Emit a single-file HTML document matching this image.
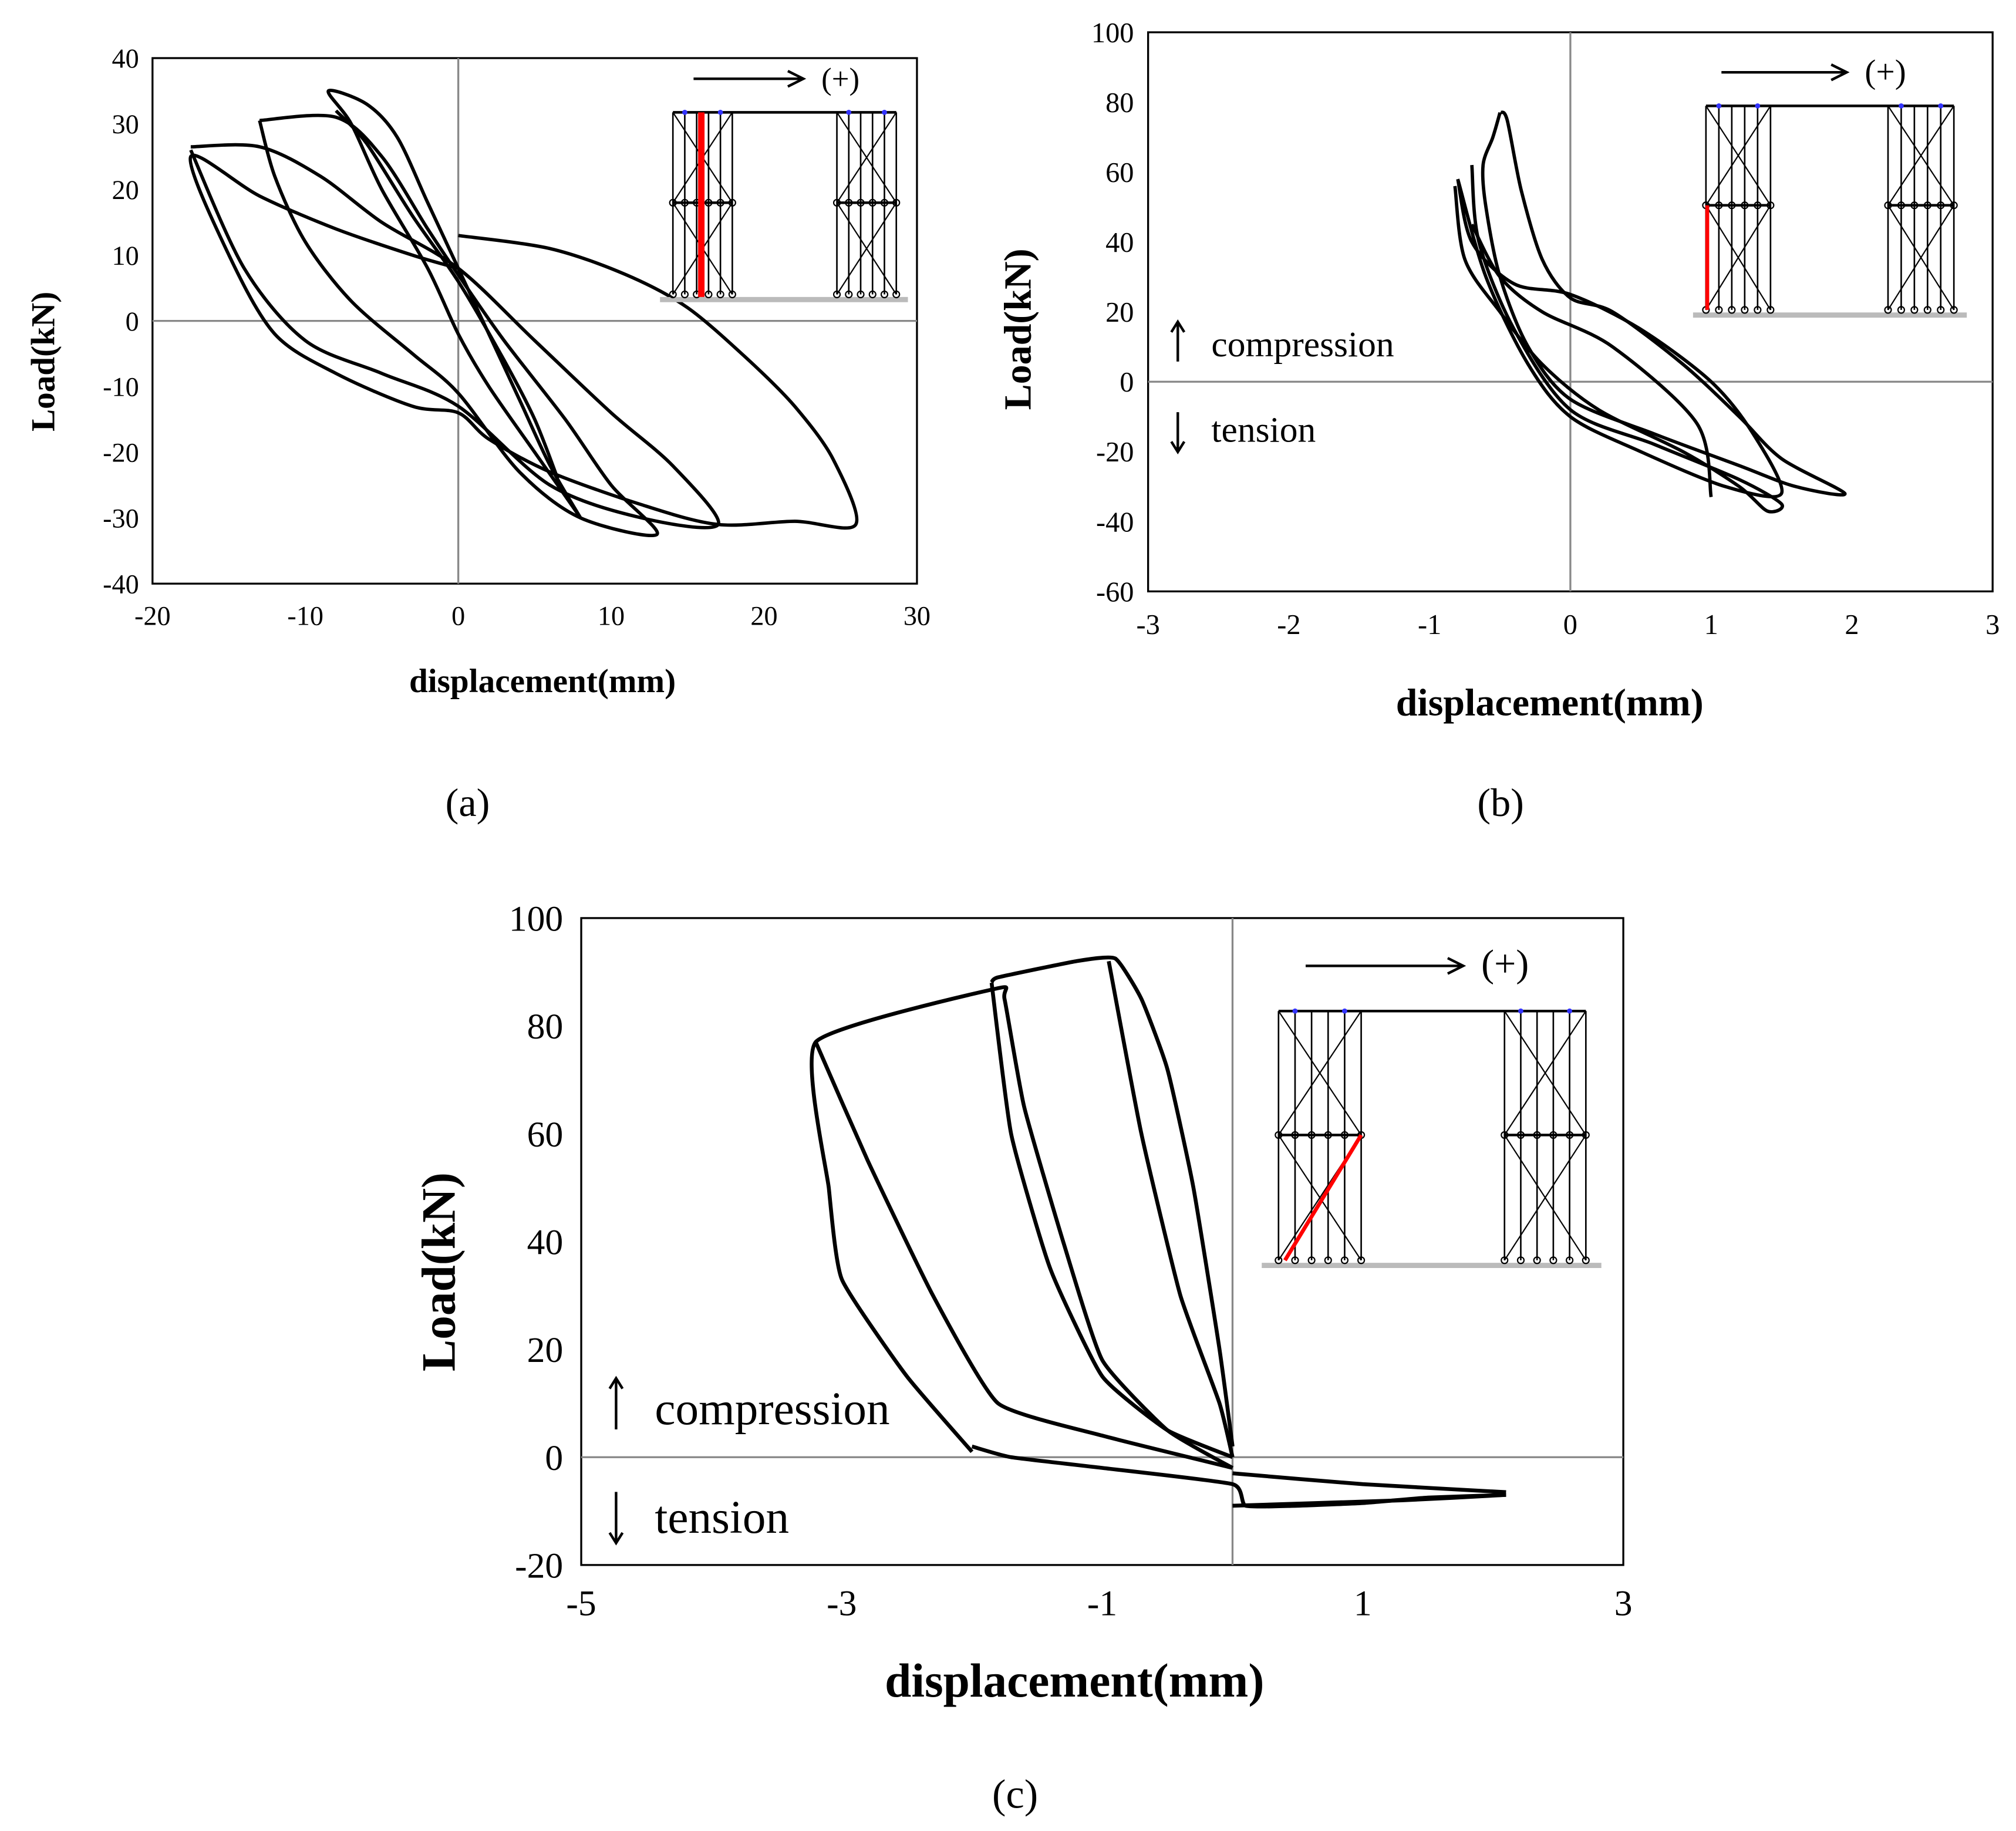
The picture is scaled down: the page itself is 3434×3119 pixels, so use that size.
<!DOCTYPE html>
<html><head><meta charset="utf-8"><style>
html,body{margin:0;padding:0;background:#fff}
svg{display:block}
text{font-family:"Liberation Serif",serif}
</style></head>
<body>
<svg id="root" width="3434" height="3119" viewBox="0 0 1561 1418" xmlns="http://www.w3.org/2000/svg">
<rect width="1561" height="1418" fill="#fff"/>
</svg>
<script>
// ---- Data ----
const aXTicks = [-20,-10,0,10,20,30];
const aYTicks = [-40,-30,-20,-10,0,10,20,30,40];
const aLoops = [
 [[8,-30],[5,-20],[2,-10],[0,-2],[-2,8],[-5,20],[-7,30],[-8.5,35],[-6,33],[-4,28],[-2,18],[0,8],[2,-2],[4,-12],[6,-22],[8,-30]],
 [[-8,32],[-6,27],[-3,16],[0,6],[3,-6],[5,-15],[6.5,-24]],
 [[-13,30.5],[-8,31],[-5,25],[-2,14],[0,7],[3,-3],[7,-15],[10,-25],[13,-32.5],[8,-30],[4,-23],[0,-11],[-3,-5],[-7,3],[-10,12],[-12,22],[-13,30.5]],
 [[-17.5,26.5],[-13,26.5],[-9,22],[-5,15],[0,8],[5,-3],[10,-14],[14,-22],[17,-31],[12,-30],[6,-25],[0,-13],[-5,-8],[-10,-3],[-14,8],[-17.5,26]],
 [[0,13],[6,11],[11,7],[15,2],[19,-6],[22,-13],[24.5,-21],[26,-31],[22,-30.5],[17,-31],[12,-28],[6,-23],[2,-18],[0,-14],[-3,-13],[-8,-8],[-12,-2],[-15,10],[-17.5,25],[-13,19],[-8,14],[-3,10],[0,8]]
];
const bXTicks = [-3,-2,-1,0,1,2,3];
const bYTicks = [-60,-40,-20,0,20,40,60,80,100];
const bLoops = [
 [[-0.5,77],[-0.45,75],[-0.35,55],[-0.2,35],[0,24],[0.3,20],[0.8,5],[1.2,-10],[1.5,-22],[1.95,-32],[1.6,-30],[1.2,-24],[0.6,-15],[0,-5],[-0.3,10],[-0.5,30],[-0.6,50],[-0.62,62],[-0.55,70],[-0.5,77]],
 [[-0.8,58],[-0.7,40],[-0.4,28],[0,25],[0.5,15],[1,0],[1.3,-15],[1.5,-32],[1.1,-30],[0.5,-20],[0,-10],[-0.3,5],[-0.6,30],[-0.8,58]],
 [[-0.82,56],[-0.75,35],[-0.5,20],[-0.2,5],[0.2,-8],[0.8,-20],[1.2,-30],[1.4,-37],[1.5,-35],[1.2,-28],[0.6,-18],[0,-8],[-0.4,15],[-0.65,40],[-0.7,62]],
 [[-0.7,45],[-0.5,30],[-0.2,20],[0.3,10],[0.9,-12],[1,-33]]
];
const cXTicks = [-5,-3,-1,1,3];
const cYTicks = [-20,0,20,40,60,80,100];
const cLoops = [
 [[-2,1],[-2.5,15],[-3,33],[-3.1,50],[-3.2,77],[-1.8,87],[-1.75,85],[-1.6,65],[-1.3,40],[-1,18],[-0.5,5],[0,-2]],
 [[-3.2,77],[-2.8,55],[-2.3,30],[-1.8,10],[-1,4],[0,-2]],
 [[-1.85,88],[-1.7,60],[-1.4,35],[-1,15],[-0.5,5],[0,0]],
 [[-1.85,88],[-1.8,89],[-1.2,92],[-0.9,92.5],[-0.7,85],[-0.5,72],[-0.3,50],[-0.1,20],[0,2]],
 [[-0.95,92],[-0.7,60],[-0.4,30],[-0.1,10],[0,0]],
 [[-2,2],[-1.7,0],[-1,-2],[0,-5],[0.1,-9],[0.5,-9],[1,-8.5],[1.5,-7.5],[2.1,-7]],
 [[0,-3],[1,-5],[2.1,-6.5]],
 [[0,-9],[1.3,-8],[2.1,-7]]
];

const NS="http://www.w3.org/2000/svg";
const root=document.getElementById('root');
function mk(tag,attrs,parent){const e=document.createElementNS(NS,tag);for(const k in attrs)e.setAttribute(k,attrs[k]);(parent||root).appendChild(e);return e;}
function txt(s,x,y,size,opts,parent){const t=mk('text',Object.assign({x:x,y:y,'font-size':size,fill:'#000'},opts||{}),parent);t.textContent=s;return t;}
function smooth(p,t){
 let d='M'+p[0][0].toFixed(1)+','+p[0][1].toFixed(1);
 for(let i=0;i<p.length-1;i++){
  const p0=p[Math.max(0,i-1)],p1=p[i],p2=p[i+1],p3=p[Math.min(p.length-1,i+2)];
  const c1=[p1[0]+(p2[0]-p0[0])*t,p1[1]+(p2[1]-p0[1])*t];
  const c2=[p2[0]-(p3[0]-p1[0])*t,p2[1]-(p3[1]-p1[1])*t];
  d+=' C'+c1[0].toFixed(1)+','+c1[1].toFixed(1)+' '+c2[0].toFixed(1)+','+c2[1].toFixed(1)+' '+p2[0].toFixed(1)+','+p2[1].toFixed(1);
 }
 return d;
}

function chart(cfg){
 const g=mk('g',{});
 
 
 const sx=v=>cfg.x0+(v-cfg.xmin)/(cfg.xmax-cfg.xmin)*(cfg.x1-cfg.x0);
 const sy=v=>cfg.y1-(v-cfg.ymin)/(cfg.ymax-cfg.ymin)*(cfg.y1-cfg.y0);
 const frame=mk('rect',{x:cfg.x0,y:cfg.y0,width:cfg.x1-cfg.x0,height:cfg.y1-cfg.y0,fill:'none',stroke:'#000','stroke-width':1.5},g);
 
 
 const zx=mk('line',{x1:sx(0),x2:sx(0),y1:cfg.y0,y2:cfg.y1,stroke:'#888','stroke-width':1.5},g);
 
 
 const zy=mk('line',{x1:cfg.x0,x2:cfg.x1,y1:sy(0),y2:sy(0),stroke:'#888','stroke-width':1.5},g);
 
 
 cfg.xt.forEach(v=>{const t=txt(String(v),sx(v),cfg.y1+cfg.fs+11,cfg.fs,{'text-anchor':'middle'},g);
  
  });
 cfg.yt.forEach(v=>{const t=txt(String(v),cfg.x0-cfg.fs*0.5,sy(v)+cfg.fs*0.35,cfg.fs,{'text-anchor':'end'},g);
  
  });
 cfg.loops.forEach(l=>{const p=mk('path',{d:smooth(l.map(d=>[sx(d[0]),sy(d[1])]),cfg.sm),fill:'none',stroke:'#000','stroke-width':cfg.lw,'stroke-linejoin':'round'},g);
  
  });
 const xt=txt('displacement(mm)',cfg.xtx,cfg.xty,cfg.tfs,{'text-anchor':'middle','font-weight':'bold'},g);
 
 
 const yt=txt('Load(kN)',0,0,cfg.tfs,{'text-anchor':'middle','font-weight':'bold',transform:'translate('+cfg.ytx+','+cfg.yty+') rotate(-90)'},g);
 
 
 const lb=txt(cfg.label,cfg.lx,cfg.ly,cfg.lfs,{'text-anchor':'middle'},g);
 
 
 return g;
}

function tower(g,xl,xr,top,mid,base){
 const n=6;
 for(let i=0;i<n;i++){const x=xl+(xr-xl)*i/(n-1);mk('line',{x1:x,x2:x,y1:top,y2:base,stroke:'#000','stroke-width':1.2},g);
  mk('circle',{cx:x,cy:mid,r:2.5,fill:'none',stroke:'#000','stroke-width':1},g);
  mk('circle',{cx:x,cy:base,r:2.5,fill:'none',stroke:'#000','stroke-width':1},g);}
 mk('line',{x1:xl,x2:xr,y1:mid,y2:mid,stroke:'#000','stroke-width':2},g);
 [[top,mid],[mid,base]].forEach(s=>{mk('line',{x1:xl,y1:s[0],x2:xr,y2:s[1],stroke:'#000','stroke-width':1},g);mk('line',{x1:xr,y1:s[0],x2:xl,y2:s[1],stroke:'#000','stroke-width':1},g);});
 mk('circle',{cx:xl+(xr-xl)*0.2,cy:top,r:2,fill:'#33f'},g);
 mk('circle',{cx:xl+(xr-xl)*0.8,cy:top,r:2,fill:'#33f'},g);
}
function inset(c){
 const g=mk('g',{});
 
 
 mk('line',{x1:c.ax0,x2:c.ax1,y1:c.ay,y2:c.ay,stroke:'#000','stroke-width':2},g);
 mk('path',{d:'M'+(c.ax1-12)+','+(c.ay-6)+' L'+c.ax1+','+c.ay+' L'+(c.ax1-12)+','+(c.ay+6),fill:'none',stroke:'#000','stroke-width':2},g);
 const t=txt('(+)',c.ax1+14,c.ay+8,c.pfs,{},g);
 
 
 mk('line',{x1:c.gl0,x2:c.gl1,y1:c.base+4,y2:c.base+4,stroke:'#bbb','stroke-width':4},g);
 mk('line',{x1:c.l0,x2:c.r1,y1:c.top,y2:c.top,stroke:'#000','stroke-width':2},g);
 tower(g,c.l0,c.l1,c.top,c.mid,c.base);
 tower(g,c.r0,c.r1,c.top,c.mid,c.base);
 const r=mk('line',Object.assign({stroke:'#f00','stroke-width':c.rw},c.red),g);
 
 
}
function arrows(x,yu,yd,fs,lx){
 const g=mk('g',{});
 
 
 const h=fs*1.1;
 mk('line',{x1:x,x2:x,y1:yu-h,y2:yu,stroke:'#000','stroke-width':2},g);
 mk('path',{d:'M'+(x-5)+','+(yu-h+8)+' L'+x+','+(yu-h)+' L'+(x+5)+','+(yu-h+8),fill:'none',stroke:'#000','stroke-width':2},g);
 mk('line',{x1:x,x2:x,y1:yd-h,y2:yd,stroke:'#000','stroke-width':2},g);
 mk('path',{d:'M'+(x-5)+','+(yd-8)+' L'+x+','+yd+' L'+(x+5)+','+(yd-8),fill:'none',stroke:'#000','stroke-width':2},g);
 txt('compression',lx,yu-4,fs,{},g);
 txt('tension',lx,yd-8,fs,{},g);
}

chart({name:'chart-a',x0:118,x1:710,y0:45,y1:452,xmin:-20,xmax:30,ymin:-40,ymax:40,xt:aXTicks,yt:aYTicks,loops:aLoops,fs:21,lw:2.6,sm:0.15,tfs:26,xtx:420,xty:536,ytx:42,yty:280,label:'(a)',lx:362,ly:632,lfs:31});
inset({ax0:537,ax1:622,ay:61,pfs:24,top:87,mid:157,base:228,l0:521,l1:567,r0:648,r1:694,gl0:511,gl1:703,rw:5,red:{x1:543,x2:543,y1:87,y2:230}});

chart({name:'chart-b',x0:889,x1:1543,y0:25,y1:458,xmin:-3,xmax:3,ymin:-60,ymax:100,xt:bXTicks,yt:bYTicks,loops:bLoops,fs:22,lw:2.6,sm:0.15,tfs:30,xtx:1200,xty:554,ytx:798,yty:255,label:'(b)',lx:1162,ly:632,lfs:31});
inset({ax0:1333,ax1:1430,ay:56,pfs:26,top:82,mid:159,base:240,l0:1321,l1:1371,r0:1462,r1:1513,gl0:1311,gl1:1523,rw:3,red:{x1:1322,x2:1322,y1:159,y2:240}});
arrows(912,280,350,28,938);

chart({name:'chart-c',x0:450,x1:1257,y0:711,y1:1212,xmin:-5,xmax:3,ymin:-20,ymax:100,xt:cXTicks,yt:cYTicks,loops:cLoops,fs:28,lw:3,sm:0.08,tfs:37,xtx:832,xty:1314,ytx:352,yty:985,label:'(c)',lx:786,ly:1400,lfs:32});
inset({ax0:1011,ax1:1133,ay:748,pfs:30,top:783,mid:879,base:976,l0:990,l1:1054,r0:1165,r1:1228,gl0:977,gl1:1240,rw:3,red:{x1:995,y1:976,x2:1054,y2:879}});
arrows(477,1107,1195,36,507);
</script>
</body></html>
